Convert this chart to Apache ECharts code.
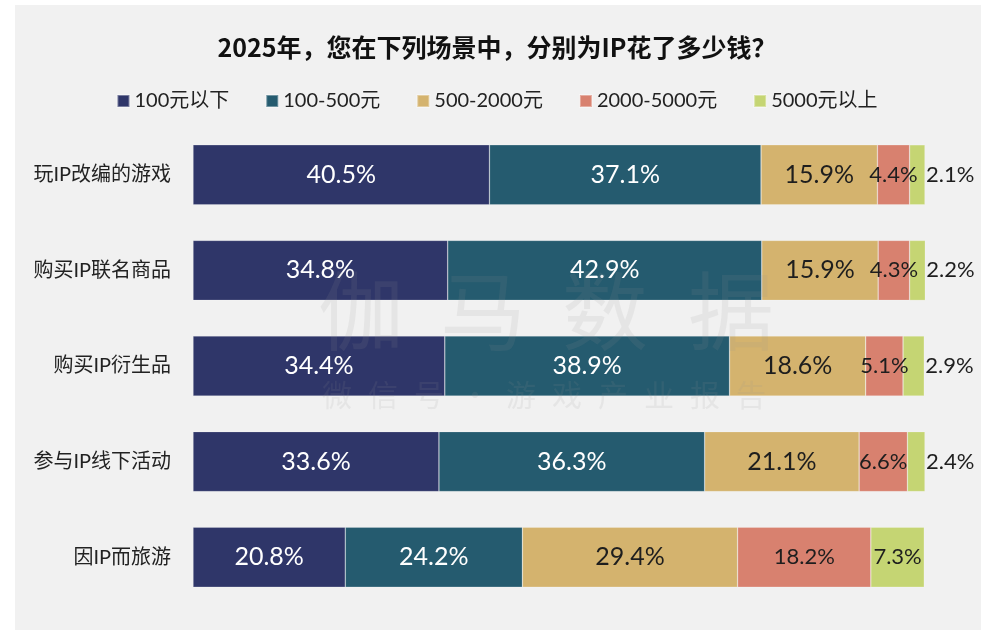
<!DOCTYPE html>
<html><head><meta charset="utf-8">
<script src="https://cdn.jsdelivr.net/npm/echarts@6/dist/echarts.min.js"></script>
<style>html,body{margin:0;padding:0;background:#fff;}#c{width:994px;height:642px;}</style>
</head><body><div id="c"></div>
<script>
const title = '2025年，您在下列场景中，分别为IP花了多少钱？';
const categories = ['玩IP改编的游戏','购买IP联名商品','购买IP衍生品','参与IP线下活动','因IP而旅游'];
const seriesNames = ['100元以下','100-500元','500-2000元','2000-5000元','5000元以上'];
const s1 = [40.5, 34.8, 34.4, 33.6, 20.8];
const s2 = [37.1, 42.9, 38.9, 36.3, 24.2];
const s3 = [15.9, 15.9, 18.6, 21.1, 29.4];
const s4 = [4.4, 4.3, 5.1, 6.6, 18.2];
const s5 = [2.1, 2.2, 2.9, 2.4, 7.3];
const colors = ['#2f3669','#255b6f','#d4b36e','#d8816f','#c5d573'];
const labelColors = ['#ffffff','#ffffff','#1e1e1e','#1e1e1e','#1e1e1e'];
const labelSizes = [25, 25, 25, 22, 22];
const allData = [s1,s2,s3,s4,s5];

const chart = echarts.init(document.getElementById('c'));
const font = 'Lato, "Noto Sans CJK SC", sans-serif';
const cjk = 'Lato, "Noto Sans CJK SC", sans-serif';
const series = allData.map((arr, i) => ({
  name: seriesNames[i],
  type: 'bar',
  stack: 'total',
  barWidth: 60,
  itemStyle: {color: colors[i], borderColor: 'rgba(255,255,255,0.35)', borderWidth: 0.6},
  label: {show: true, position: 'inside', color: labelColors[i], fontSize: labelSizes[i], fontFamily: font,
          formatter: p => p.value.toFixed(1) + '%'},
  data: arr.map((v, j) => {
    if (i === 4 && v < 5) {
      return {value: v, label: {position: 'right', distance: 1}};
    }
    return v;
  })
}));

const wm = ['伽','马','数','据'];
const wmX = [318, 440, 562, 688];
const wm2 = ['微','信','号','·','游','戏','产','业','报','告'];
const graphics = [
  {type: 'rect', shape: {x: 15, y: 5, width: 966, height: 625}, style: {fill: '#f1f1f1'}, z: -10}
];
wm.forEach((ch, k) => graphics.push({type: 'text', left: wmX[k], top: 268,
  style: {text: ch, fontSize: 86, fontFamily: '"Noto Sans CJK SC"', fill: 'rgba(150,150,150,0.12)'}, z: 100}));
wm2.forEach((ch, k) => graphics.push({type: 'text', left: 322 + k * 46, top: 380,
  style: {text: ch, fontSize: 30, fontFamily: '"Noto Sans CJK SC"', fill: 'rgba(150,150,150,0.12)'}, z: 100}));

chart.setOption({
  backgroundColor: '#ffffff',
  graphic: graphics,
  title: {text: title, left: 'center', top: 30,
          textStyle: {fontSize: 25, fontWeight: 'bold', color: '#111', fontFamily: '"Noto Sans CJK SC", sans-serif'}},
  legend: {data: seriesNames, top: 86, left: 'center', itemWidth: 12, itemHeight: 12, itemGap: 36,
           icon: 'rect', textStyle: {fontSize: 20, color: '#222', fontFamily: cjk}},
  grid: {left: 193, right: 69, top: 127, bottom: 37},
  xAxis: {type: 'value', min: 0, max: 100, show: false},
  yAxis: {type: 'category', data: categories, inverse: true,
          axisLine: {show: false}, axisTick: {show: false},
          axisLabel: {fontSize: 20, color: '#222', margin: 22, fontFamily: cjk}},
  series: series
});
</script></body></html>
